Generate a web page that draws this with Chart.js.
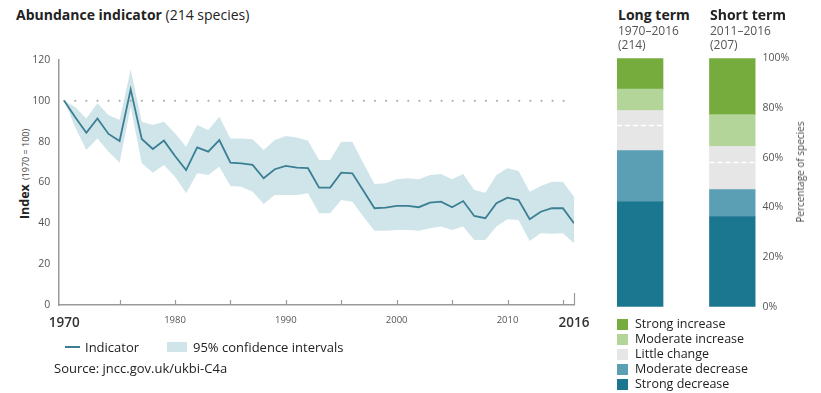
<!DOCTYPE html>
<html>
<head>
<meta charset="utf-8">
<script src="https://cdn.jsdelivr.net/npm/chart.js@4.4.1/dist/chart.umd.min.js"></script>
<style>
  html, body { margin: 0; padding: 0; background: #fff; }
  body { width: 821px; height: 393px; position: relative; overflow: hidden;
         font-family: 'Open Sans', 'Noto Sans', sans-serif; color: #222; }
  .txt { position: absolute; white-space: nowrap; line-height: 16px; }
  canvas { position: absolute; }
  .swatch { position: absolute; width: 11px; height: 11px; }
</style>
</head>
<body>

<div class="txt" style="left:16px; top:7px; font-size:14px; color:#222;"><b>Abundance indicator</b> (214 species)</div>

<div class="txt" id="yTitle" style="left:24px; top:174px; transform:translate(-50%,-50%) rotate(-90deg); color:#222;">
  <b style="font-size:12.5px;">Index</b> <span style="font-size:9px; color:#444;">(1970 = 100)</span>
</div>

<canvas id="lineChart" width="600" height="345" style="left:0; top:0;"></canvas>

<!-- legend for the index chart -->
<div style="position:absolute; left:65px; top:346px; width:15px; height:2px; background:#3a7f93;"></div>
<div class="txt" style="left:85px; top:339px; font-size:13px;">Indicator</div>
<div style="position:absolute; left:167px; top:342px; width:20px; height:10px; background:#d0e5ea;"></div>
<div class="txt" style="left:193px; top:339px; font-size:13px;">95% confidence intervals</div>
<div class="txt" style="left:54px; top:360px; font-size:13px;">Source: jncc.gov.uk/ukbi-C4a</div>

<div id="termHeads"></div>

<canvas id="barChart" width="231" height="320" style="left:590px; top:0;"></canvas>

<div class="txt" style="left:800px; top:172px; transform:translate(-50%,-50%) rotate(-90deg); font-size:10px; color:#444;">Percentage of species</div>

<div id="barLegend"></div>

<script>
// ---- Abundance index, 1970 = 100 ----
const years = [1970, 1971, 1972, 1973, 1974, 1975, 1976, 1977, 1978, 1979,
               1980, 1981, 1982, 1983, 1984, 1985, 1986, 1987, 1988, 1989,
               1990, 1991, 1992, 1993, 1994, 1995, 1996, 1997, 1998, 1999,
               2000, 2001, 2002, 2003, 2004, 2005, 2006, 2007, 2008, 2009,
               2010, 2011, 2012, 2013, 2014, 2015, 2016];
const indicator = [100, 92, 84.4, 91.4, 83.8, 80.3, 105.6, 81.3, 76.4, 80.5,
                   73, 66.1, 77.2, 75.1, 80.8, 69.7, 69.4, 68.6, 62.1, 66.5,
                   68.1, 67.3, 67.0, 57.5, 57.5, 64.8, 64.5, 56, 47.4, 47.7,
                   48.6, 48.6, 47.9, 50.1, 50.6, 47.9, 50.9, 43.6, 42.5, 49.8,
                   52.6, 51.4, 42.0, 45.7, 47.4, 47.4, 40.0];
const ciUpper = [100, 97, 91.4, 98.8, 93.1, 90.6, 115.4, 89.8, 88.2, 89.8,
                 84.1, 77.5, 88.2, 85.7, 92.2, 81.6, 81.6, 81.2, 75.9, 80.8,
                 82.8, 82.1, 80.5, 71.0, 71.0, 80.0, 80.0, 69.4, 59.3, 59.6,
                 61.6, 62.1, 61.6, 63.7, 64.2, 61.6, 64.2, 56.3, 55.0, 63.7,
                 67.0, 65.6, 55.5, 58.3, 60.4, 60.4, 53.0];
const ciLower = [100, 87, 75.9, 81.6, 75.1, 69.7, 97.1, 69.4, 64.8, 68.6,
                 62.8, 54.7, 64.5, 63.7, 67.7, 58.3, 57.9, 55.5, 49.5, 53.9,
                 53.9, 53.9, 54.7, 44.9, 44.9, 51.4, 50.6, 43.2, 36.4, 36.4,
                 36.7, 36.7, 36.4, 37.6, 38.4, 36.7, 38.4, 31.8, 31.8, 38.4,
                 42.0, 41.6, 31.3, 35.1, 34.9, 35.1, 30.2];
const baselineValue = 100;
const xLabelYears = [1970, 1980, 1990, 2000, 2010, 2016];
const xTickMarkYears = [1975, 1980, 1985, 1990, 1995, 2000, 2005, 2010, 2015, 2016];
const yTicks = [0, 20, 40, 60, 80, 100, 120];

// ---- Share of species by trend category ----
const termLabels = ['Long term', 'Short term'];
const termPeriods = ['1970–2016', '2011–2016'];
const termSpecies = [214, 207];
const strongDecrease   = [42.2, 36.3];
const moderateDecrease = [20.7, 10.8];
const littleChangeDown = [10.4, 11.1];
const littleChangeUp   = [5.7, 6.4];
const moderateIncrease = [8.6, 12.7];
const strongIncrease   = [12.4, 22.7];
const percentTicks = [0, 20, 40, 60, 80, 100];

const COLORS = {
  line: '#3a7f93', band: '#d0e5ea', axis: '#9a9a9a', dots: '#b0b0b0',
  strongInc: '#76ab3e', modInc: '#b4d59a', little: '#e6e6e6',
  modDec: '#5a9fb4', strongDec: '#1b7690'
};

const pts = arr => years.map((y, i) => ({ x: y, y: arr[i] }));

// tick marks drawn inward from the x axis
const insideTicks = {
  id: 'insideTicks',
  afterDraw(chart) {
    const { ctx, scales: { x }, chartArea } = chart;
    ctx.save();
    ctx.strokeStyle = COLORS.axis;
    ctx.lineWidth = 1.2;
    xTickMarkYears.forEach(yr => {
      const px = Math.round(x.getPixelForValue(yr)) + 0.5;
      const len = yr === 2016 ? 12 : 5;
      ctx.beginPath();
      ctx.moveTo(px, chartArea.bottom);
      ctx.lineTo(px, chartArea.bottom - len);
      ctx.stroke();
    });
    ctx.restore();
  }
};

new Chart(document.getElementById('lineChart'), {
  type: 'line',
  data: {
    datasets: [
      { label: 'lower', data: pts(ciLower), borderWidth: 0, pointRadius: 0, fill: false, order: 3 },
      { label: '95% confidence intervals', data: pts(ciUpper), borderWidth: 0, pointRadius: 0,
        fill: '-1', backgroundColor: COLORS.band, order: 2 },
      { label: 'Indicator', data: pts(indicator), borderColor: COLORS.line, borderWidth: 1.8,
        pointRadius: 0, tension: 0, fill: false, order: 0 },
      { label: 'baseline', data: [{ x: years[0], y: baselineValue }, { x: years[years.length - 1], y: baselineValue }],
        borderColor: COLORS.dots, borderWidth: 2.2, borderDash: [0, 11.1], borderCapStyle: 'round',
        pointRadius: 0, fill: false, order: 1 }
    ]
  },
  options: {
    responsive: false,
    animation: false,
    layout: { padding: { top: 60, right: 26, bottom: 0, left: 0 } },
    plugins: { legend: { display: false }, tooltip: { enabled: false } },
    scales: {
      x: {
        type: 'linear', min: 1969.47, max: 2016,
        afterBuildTicks: s => { s.ticks = xLabelYears.map(v => ({ value: v })); },
        afterFit: s => { s.height = 40; },
        grid: { display: false, drawTicks: false },
        border: { display: true, color: COLORS.axis, width: 1.5 },
        ticks: {
          autoSkip: false, maxRotation: 0, padding: 10,
          callback: v => String(v),
          color: c => (c.tick && (c.tick.value === 1970 || c.tick.value === 2016)) ? '#333' : '#555',
          font: c => (c.tick && (c.tick.value === 1970 || c.tick.value === 2016))
            ? { family: "'Open Sans', sans-serif", size: 13.5, weight: '600' }
            : { family: "'Open Sans', sans-serif", size: 9.5 }
        }
      },
      y: {
        min: 0, max: 120,
        afterBuildTicks: s => { s.ticks = yTicks.map(v => ({ value: v })); },
        afterFit: s => { s.width = 58.3; },
        grid: { display: false, drawTicks: false },
        border: { display: true, color: COLORS.axis, width: 1.5 },
        ticks: { padding: 8, color: '#555', font: { family: "'Open Sans', sans-serif", size: 10.5 } }
      }
    }
  },
  plugins: [insideTicks]
});

// dashed divider inside the "little change" block
const littleDivider = {
  id: 'littleDivider',
  afterDatasetsDraw(chart) {
    const meta = chart.getDatasetMeta(2);
    const { ctx } = chart;
    ctx.save();
    ctx.strokeStyle = '#ffffff';
    ctx.lineWidth = 1.3;
    ctx.setLineDash([5, 3]);
    meta.data.forEach(bar => {
      const half = bar.width / 2;
      ctx.beginPath();
      ctx.moveTo(bar.x - half, Math.round(bar.y) + 0.5);
      ctx.lineTo(bar.x + half, Math.round(bar.y) + 0.5);
      ctx.stroke();
    });
    ctx.restore();
  }
};

const barPts = arr => arr.map((v, i) => ({ x: i, y: v }));
const barDs = (label, arr, color) => ({
  label, data: barPts(arr), backgroundColor: color, borderWidth: 0, barThickness: 46
});

new Chart(document.getElementById('barChart'), {
  type: 'bar',
  data: {
    datasets: [
      barDs('Strong decrease', strongDecrease, COLORS.strongDec),
      barDs('Moderate decrease', moderateDecrease, COLORS.modDec),
      barDs('Little change', littleChangeDown, COLORS.little),
      barDs('Little change', littleChangeUp, COLORS.little),
      barDs('Moderate increase', moderateIncrease, COLORS.modInc),
      barDs('Strong increase', strongIncrease, COLORS.strongInc)
    ]
  },
  options: {
    responsive: false,
    animation: false,
    layout: { padding: { top: 58.3, right: 0, bottom: 12, left: 26.9 } },
    plugins: { legend: { display: false }, tooltip: { enabled: false } },
    scales: {
      x: { type: 'linear', min: -0.25, max: 1.25, offset: false, stacked: true, display: false },
      y: {
        position: 'right', stacked: true, min: 0, max: 100,
        afterBuildTicks: s => { s.ticks = percentTicks.map(v => ({ value: v })); },
        afterFit: s => { s.width = 65.4; },
        grid: { display: false, drawTicks: false },
        border: { display: false },
        ticks: { padding: 7, color: '#555', callback: v => v + '%',
                 font: { family: "'Open Sans', sans-serif", size: 10.5 } }
      }
    }
  },
  plugins: [littleDivider]
});

// column headings above the bars
const heads = document.getElementById('termHeads');
const headX = [618, 710];
termLabels.forEach((t, i) => {
  heads.insertAdjacentHTML('beforeend',
    `<div class="txt" style="left:${headX[i]}px; top:7px; font-size:14px; font-weight:700;">${t}</div>` +
    `<div class="txt" style="left:${headX[i]}px; top:23px; font-size:12px; color:#555;">${termPeriods[i]}</div>` +
    `<div class="txt" style="left:${headX[i]}px; top:37px; font-size:12px; color:#555;">(${termSpecies[i]})</div>`);
});

// category legend
const legendItems = [
  ['Strong increase', COLORS.strongInc],
  ['Moderate increase', COLORS.modInc],
  ['Little change', COLORS.little],
  ['Moderate decrease', COLORS.modDec],
  ['Strong decrease', COLORS.strongDec]
];
const lg = document.getElementById('barLegend');
legendItems.forEach(([name, col], i) => {
  const cy = 324 + i * 15;
  lg.insertAdjacentHTML('beforeend',
    `<div class="swatch" style="left:617px; top:${cy - 5.5}px; background:${col};"></div>` +
    `<div class="txt" style="left:635px; top:${cy - 8}px; font-size:12.5px;">${name}</div>`);
});
</script>
</body>
</html>
